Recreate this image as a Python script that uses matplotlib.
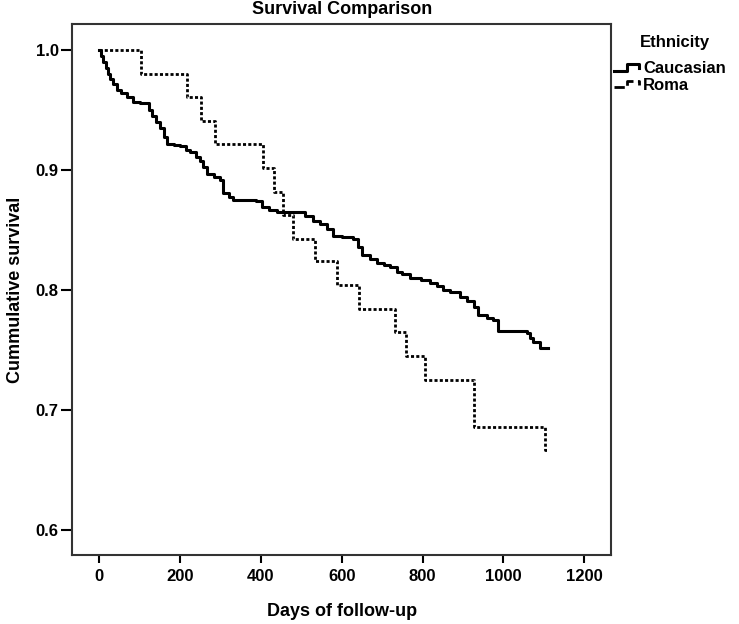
import matplotlib
matplotlib.use("Agg")
import matplotlib.pyplot as plt
from matplotlib.legend_handler import HandlerBase
from matplotlib.lines import Line2D

plt.rcParams['font.family'] = ['Liberation Sans', 'DejaVu Sans']
plt.rcParams['font.weight'] = 'bold'

# Kaplan-Meier estimates
cauc_days = [0, 5, 10, 16, 22, 28, 35, 43, 55, 70, 84, 100, 122, 130, 140, 150, 160, 167,
             185, 200, 215, 224, 240, 249, 258, 266, 285, 299, 307, 320, 332, 389, 402,
             420, 439, 510, 529, 545, 563, 579, 600, 628, 640, 649, 670, 686, 705, 719,
             736, 750, 769, 795, 818, 835, 851, 868, 892, 910, 926, 938, 960, 975, 987,
             1057, 1065, 1074, 1090, 1111]
cauc_surv = [1.0, 0.995, 0.990, 0.985, 0.980, 0.976, 0.972, 0.967, 0.964, 0.961, 0.957,
             0.956, 0.950, 0.945, 0.940, 0.935, 0.928, 0.922, 0.921, 0.920, 0.917, 0.915,
             0.911, 0.908, 0.903, 0.897, 0.894, 0.892, 0.881, 0.878, 0.875, 0.874, 0.869,
             0.867, 0.865, 0.862, 0.858, 0.855, 0.851, 0.845, 0.844, 0.843, 0.836, 0.829,
             0.826, 0.823, 0.821, 0.819, 0.815, 0.813, 0.810, 0.808, 0.806, 0.803, 0.800,
             0.798, 0.794, 0.791, 0.786, 0.779, 0.777, 0.775, 0.766, 0.764, 0.760, 0.757,
             0.752, 0.752]

roma_days = [0, 103, 216, 251, 286, 404, 433, 455, 480, 534, 589, 643, 732, 758, 806,
             927, 1103, 1108]
roma_surv = [1.0, 0.980, 0.961, 0.941, 0.922, 0.902, 0.882, 0.863, 0.843, 0.824, 0.804,
             0.784, 0.765, 0.745, 0.725, 0.686, 0.667, 0.667]

groups = ['Caucasian', 'Roma']
x_ticks = [0, 200, 400, 600, 800, 1000, 1200]
y_ticks = [0.6, 0.7, 0.8, 0.9, 1.0]

solid_style = dict(color='black', lw=2.2, linestyle='-')
dot_style = dict(color='black', lw=2.0, linestyle=(0, (1.1, 0.8)))


class StepHandler(HandlerBase):
    def create_artists(self, legend, orig_handle, xdescent, ydescent,
                       width, height, fontsize, trans):
        x0, x1 = -xdescent, -xdescent + width
        xm = x0 + width * 0.5
        ylo = -ydescent + height * 0.2
        yhi = -ydescent + height * 0.75
        ln = Line2D([x0, xm, xm, x1, x1], [ylo, ylo, yhi, yhi, ylo + height * 0.2],
                    color=orig_handle.get_color(), lw=orig_handle.get_linewidth(),
                    linestyle=orig_handle.get_linestyle(), transform=trans)
        return [ln]


fig = plt.figure(figsize=(7.39, 6.24), dpi=100)
ax = fig.add_axes([0.0981, 0.1106, 0.7287, 0.851])

l1, = ax.step(cauc_days, cauc_surv, where='post', **solid_style)
l2, = ax.step(roma_days, roma_surv, where='post', **dot_style)

ax.set_xlim(-66, 1266)
ax.set_ylim(0.579, 1.022)
ax.set_xticks(x_ticks)
ax.set_xticklabels([str(v) for v in x_ticks])
ax.set_yticks(y_ticks)
ax.set_yticklabels(['%.1f' % v for v in y_ticks])
ax.tick_params(axis='y', direction='out', length=8, width=1.5, labelsize=12, pad=2)
ax.tick_params(axis='x', direction='out', length=6, width=1.5, labelsize=12, pad=4)
for lab in ax.get_xticklabels() + ax.get_yticklabels():
    lab.set_fontweight('bold')
for sp in ax.spines.values():
    sp.set_linewidth(1.5)
    sp.set_color('#333333')

fig.text(342 / 739, 1 - 10 / 624, 'Survival Comparison', ha='center', va='center',
         fontsize=13, fontweight='bold')
fig.text(342 / 739, 1 - 612 / 624, 'Days of follow-up', ha='center', va='center',
         fontsize=13, fontweight='bold')
fig.text(16 / 739, 1 - 290 / 624, 'Cummulative survival', ha='center', va='center',
         rotation=90, fontsize=13, fontweight='bold')

fig.text(640 / 739, 1 - 42 / 624, 'Ethnicity', ha='left', va='center',
         fontsize=12, fontweight='bold')
leg = fig.legend([l1, l2], groups, loc='upper left', bbox_to_anchor=(614 / 739, 1 - 61 / 624),
                 frameon=False, handler_map={Line2D: StepHandler()},
                 handlelength=1.5, handletextpad=0.25, labelspacing=0.1,
                 prop={'size': 12, 'weight': 'bold'}, borderaxespad=0, borderpad=0)

fig.savefig('out.png', dpi=100)
